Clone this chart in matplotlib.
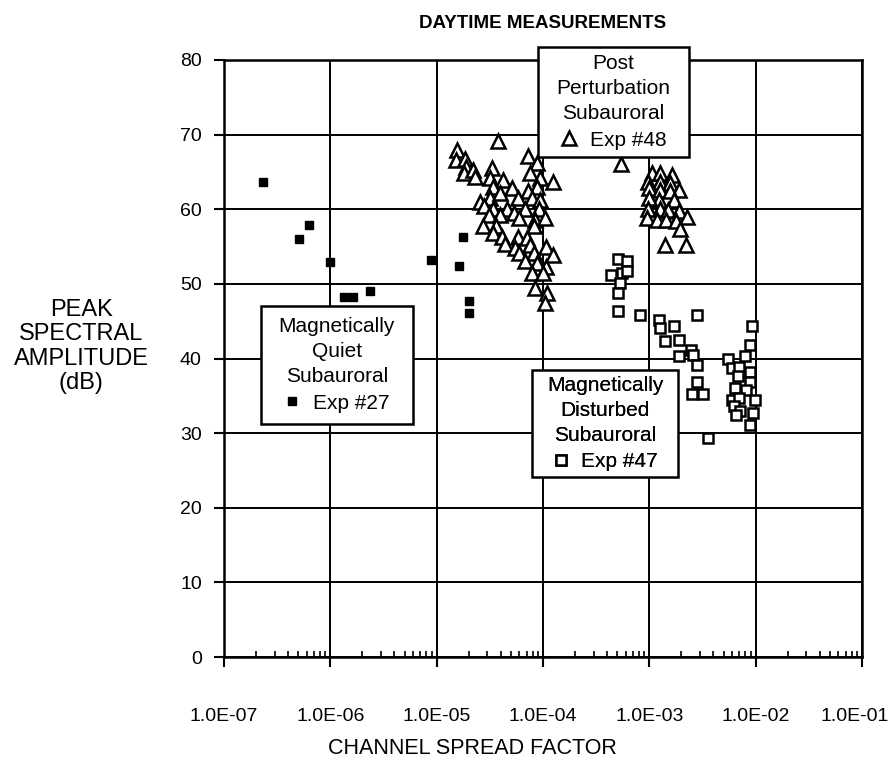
"""Daytime measurements: peak spectral amplitude vs channel spread factor."""

import matplotlib
matplotlib.use("Agg")
import matplotlib.pyplot as plt
from matplotlib.patches import Rectangle
from matplotlib.ticker import LogLocator, NullFormatter
from matplotlib.transforms import ScaledTranslation

plt.rcParams["font.family"] = ["Liberation Sans", "DejaVu Sans"]

# Exp #27 - magnetically quiet subauroral (filled squares)
quiet_x = [2.33e-7, 6.35e-7, 5.08e-7, 0.99e-6, 1.33e-6, 1.62e-6, 2.36e-6,
           8.8e-6, 1.76e-5, 1.62e-5, 2.02e-5, 2.02e-5]
quiet_y = [63.7, 57.9, 56.0, 52.9, 48.3, 48.3, 49.1, 53.2, 56.3, 52.4, 47.7, 46.1]

# Exp #48 - post perturbation subauroral (open triangles)
post_x = [3.8e-5, 1.55e-5, 1.53e-5, 1.85e-5, 1.9e-5, 1.8e-5, 2.2e-5, 2.3e-5,
          3.3e-5, 3.2e-5, 4.2e-5, 3.4e-5, 5.1e-5, 7.3e-5, 8.7e-5, 7.6e-5,
          9.4e-5, 1.25e-4, 8.7e-5, 7.3e-5, 2.55e-5, 3.2e-5, 3.9e-5, 5.8e-5,
          7.9e-5, 9.4e-5, 2.8e-5, 3.4e-5, 4.6e-5, 6.8e-5, 9.1e-5, 3.1e-5,
          3.9e-5, 5.3e-5, 6.0e-5, 8.5e-5, 1.05e-4, 2.75e-5, 3.6e-5, 8.2e-5,
          3.4e-5, 4.1e-5, 5.8e-5, 7.0e-5, 4.4e-5, 5.5e-5, 7.6e-5, 1.07e-4,
          6.0e-5, 8.2e-5, 1.25e-4, 6.8e-5, 8.7e-5, 1.07e-4, 7.9e-5, 1.0e-4,
          8.5e-5, 1.1e-4, 1.05e-4,
          5.4e-4, 1.05e-3, 1.27e-3, 1.64e-3, 9.8e-4, 1.27e-3, 1.57e-3, 1.9e-3,
          1.0e-3, 1.27e-3, 1.57e-3, 1.22e-3, 1.0e-3, 1.7e-3, 9.8e-4, 1.27e-3,
          1.5e-3, 1.9e-3, 2.25e-3, 9.5e-4, 1.17e-3, 1.45e-3, 1.8e-3, 1.95e-3,
          1.4e-3, 2.2e-3]
post_y = [69.2, 67.9, 66.6, 66.8, 65.7, 64.8, 65.3, 64.3,
          65.5, 64.2, 63.9, 63.0, 62.8, 67.1, 66.2, 64.8,
          64.2, 63.7, 63.0, 62.4, 61.0, 61.5, 62.2, 61.5,
          61.5, 61.2, 60.4, 60.1, 60.1, 60.1, 60.1, 59.2,
          59.2, 59.5, 58.8, 58.6, 58.8, 57.7, 57.7, 57.7,
          56.8, 56.3, 56.3, 56.1, 55.4, 54.8, 55.2, 55.0,
          54.1, 54.1, 53.9, 53.0, 52.8, 52.3, 51.4, 51.4,
          49.4, 48.8, 47.4,
          66.0, 64.8, 64.8, 64.6, 63.7, 63.7, 63.5, 62.6,
          62.8, 62.6, 62.4, 61.2, 61.5, 61.2, 60.1, 60.1,
          59.9, 59.7, 59.0, 58.8, 58.6, 58.6, 58.4, 57.3,
          55.2, 55.2]

# Exp #47 - magnetically disturbed subauroral (open squares)
dist_x = [5.1e-4, 6.1e-4, 4.4e-4, 5.5e-4, 6.1e-4, 5.3e-4, 5.1e-4, 5.1e-4,
          8.2e-4, 2.8e-3, 1.22e-3, 1.27e-3, 1.7e-3, 1.4e-3, 1.9e-3, 2.45e-3,
          1.9e-3, 2.6e-3, 2.8e-3, 2.8e-3, 2.5e-3, 3.2e-3, 3.6e-3,
          9.2e-3, 8.9e-3, 5.5e-3, 7.9e-3, 6.0e-3, 7.0e-3, 8.9e-3, 6.8e-3,
          8.9e-3, 6.4e-3, 8.1e-3, 6.0e-3, 7.0e-3, 9.8e-3, 6.2e-3, 7.2e-3,
          9.5e-3, 6.6e-3, 8.9e-3]
dist_y = [53.4, 53.0, 51.2, 51.4, 51.7, 50.1, 48.8, 46.3,
          45.8, 45.8, 45.2, 44.1, 44.3, 42.3, 42.5, 41.2,
          40.3, 40.5, 39.1, 36.9, 35.3, 35.3, 29.3,
          44.3, 41.8, 39.9, 40.3, 38.7, 38.9, 38.2, 37.6,
          36.9, 36.0, 35.8, 34.5, 34.7, 34.5, 33.6, 32.9,
          32.7, 32.4, 31.1]

x_ticks = [1e-7, 1e-6, 1e-5, 1e-4, 1e-3, 1e-2, 1e-1]
x_tick_labels = ["1.0E-07", "1.0E-06", "1.0E-05", "1.0E-04",
                 "1.0E-03", "1.0E-02", "1.0E-01"]
y_ticks = [0, 10, 20, 30, 40, 50, 60, 70, 80]

fig = plt.figure(figsize=(8.9, 7.71), dpi=100)
ax = fig.add_axes([224 / 890, 1 - 657 / 771, 638 / 890, 597 / 771])

h_quiet, = ax.plot(quiet_x, quiet_y, ls="none", marker="s", ms=5.5,
                   mfc="black", mec="black", zorder=3, label="Exp #27")
h_post, = ax.plot(post_x, post_y, ls="none", marker="^", ms=9.5,
                  mfc="white", mec="black", mew=1.8, zorder=3, label="Exp #48")
h_dist, = ax.plot(dist_x, dist_y, ls="none", marker="s", ms=7.5,
                  mfc="white", mec="black", mew=1.8, zorder=3, label="Exp #47")

ax.set_xscale("log")
ax.set_xlim(1e-7, 1e-1)
ax.set_ylim(0, 80)
ax.set_xticks(x_ticks, x_tick_labels)
ax.set_yticks(y_ticks)
ax.xaxis.set_minor_locator(LogLocator(base=10, subs=range(2, 10), numticks=20))
ax.xaxis.set_minor_formatter(NullFormatter())

ax.grid(True, which="major", color="black", lw=1.4)
ax.set_axisbelow(True)
for sp in ax.spines.values():
    sp.set_linewidth(1.8)

ax.tick_params(axis="x", which="major", direction="out", length=7, width=1.5,
               pad=30, labelsize=14)
ax.tick_params(axis="x", which="minor", direction="in", length=4, width=1.2)
ax.tick_params(axis="y", which="major", direction="out", length=7, width=1.5,
               pad=9, labelsize=14)

# keep the last tick label inside the figure
last = ax.get_xticklabels()[-1]
last.set_transform(last.get_transform()
                   + ScaledTranslation(-7 / 100, 0, fig.dpi_scale_trans))

ax.set_title("DAYTIME MEASUREMENTS", fontsize=13.5, fontweight="bold", pad=23)
ax.set_xlabel("CHANNEL SPREAD FACTOR", fontsize=15.5)
ax.xaxis.set_label_coords(0.39, -0.135)
ax.set_ylabel("PEAK\nSPECTRAL\nAMPLITUDE\n(dB)", fontsize=17, rotation=0,
              ha="center", va="center", multialignment="center",
              linespacing=1.15)
ax.yaxis.set_label_coords(-0.224, 0.52)

# legend boxes: (x0, y0, x1, y1) in axes fraction, title, handle
boxes = [
    ((0.058, 0.390, 0.296, 0.588), "Magnetically\nQuiet\nSubauroral", h_quiet),
    ((0.492, 0.8375, 0.729, 1.022), "Post\nPerturbation\nSubauroral", h_post),
    ((0.483, 0.3015, 0.712, 0.481), "Magnetically\nDisturbed\nSubauroral", h_dist),
]
for (x0, y0, x1, y1), title, handle in boxes:
    ax.add_patch(Rectangle((x0, y0), x1 - x0, y1 - y0, transform=ax.transAxes,
                           facecolor="white", edgecolor="black", lw=1.8,
                           zorder=4, clip_on=False))
    leg = ax.legend(handles=[handle], title=title, loc="center",
                    bbox_to_anchor=((x0 + x1) / 2, (y0 + y1) / 2),
                    frameon=False, fontsize=15, title_fontsize=15,
                    alignment="center", handlelength=0.8, handletextpad=0.6,
                    borderpad=0, borderaxespad=0, labelspacing=0.35)
    leg.get_title().set_multialignment("center")
    leg.get_title().set_linespacing(1.4)
    leg.set_zorder(5)
    ax.add_artist(leg)

fig.savefig("out.png", dpi=100)
